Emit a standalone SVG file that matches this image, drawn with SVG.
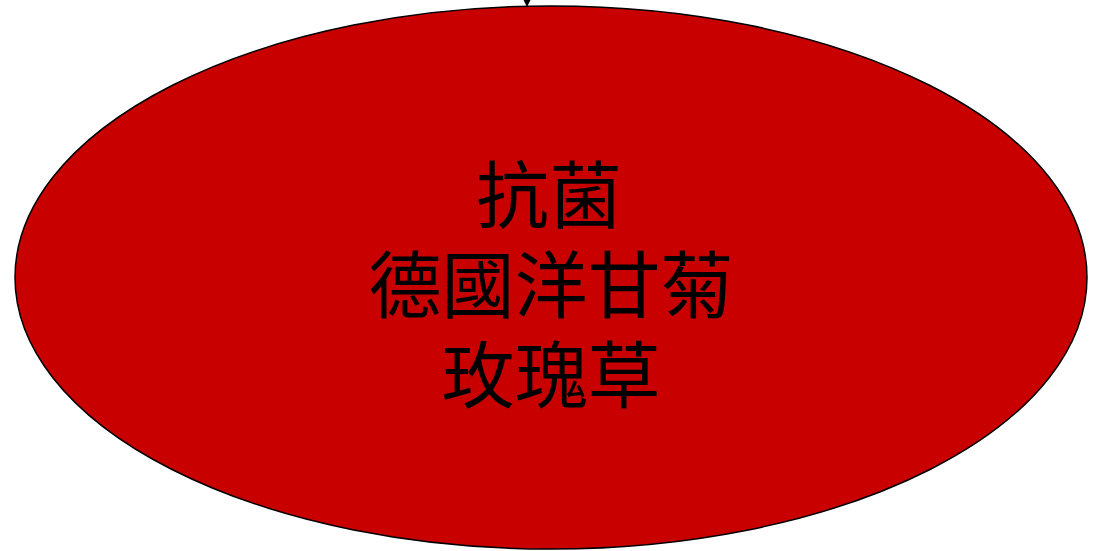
<svg xmlns="http://www.w3.org/2000/svg" width="1099" height="551" viewBox="0 0 1099 551">
<style>
.node{fill:#C80000;stroke:#000;stroke-width:1.5}
.lbl{font-family:"Noto Sans CJK TC","Noto Sans CJK SC",serif;font-size:73px;fill:#000;text-anchor:middle}
</style>
<defs>
<marker id="ah" markerWidth="10" markerHeight="10" refX="9" refY="5" orient="auto" markerUnits="userSpaceOnUse">
<path d="M0,0 L10,5 L0,10 Z" fill="#000"/>
</marker>
</defs>
<rect width="1099" height="551" fill="#fff"/>
<g id="connectors">
<line x1="527" y1="-10" x2="527" y2="6" stroke="#000" stroke-width="1" marker-end="url(#ah)"/>
</g>
<g id="node1">
<ellipse class="node" cx="551" cy="277.5" rx="536" ry="271.5"/>
<text class="lbl"><tspan x="549" y="222">抗菌</tspan><tspan x="551" y="312">德國洋甘菊</tspan><tspan x="551" y="402">玫瑰草</tspan></text>
</g>
</svg>
